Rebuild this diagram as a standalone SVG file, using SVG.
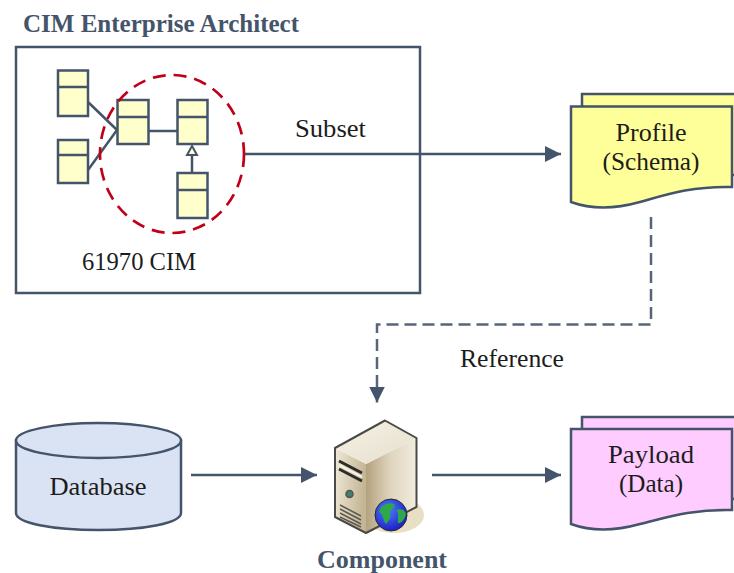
<svg xmlns="http://www.w3.org/2000/svg" width="734" height="573" viewBox="0 0 734 573">
<style>
text{font-family:"Liberation Serif","Times New Roman",serif;font-size:25px;fill:#1c1c1c}
.h{font-weight:bold;fill:#44546a}
.ln{fill:none;stroke:#44546a;stroke-width:2.5}
.cls{fill:#ffffcc;stroke:#44546a;stroke-width:2.5}
.doc{stroke:#44546a;stroke-width:2.5}
.y{fill:#ffff99}.p{fill:#ffccff}
</style>
<defs>
<marker id="a" markerUnits="userSpaceOnUse" markerWidth="17" markerHeight="17" refX="16" refY="8.5" orient="auto"><path d="M0 0.5L16 8.5L0 16.5L0 0.5Z" fill="#44546a"/></marker>
<linearGradient id="sf" x1="0" y1="0" x2="1" y2="0.2"><stop offset="0" stop-color="#efe9d8"/><stop offset="1" stop-color="#c4b595"/></linearGradient>
<linearGradient id="sr" x1="0" y1="0" x2="1" y2="0"><stop offset="0" stop-color="#b3a27f"/><stop offset="0.5" stop-color="#e0d6bf"/><stop offset="1" stop-color="#f1ecdf"/></linearGradient>
<linearGradient id="st" x1="0" y1="0" x2="1" y2="1"><stop offset="0" stop-color="#f5f1e6"/><stop offset="1" stop-color="#e6dfcc"/></linearGradient>
<radialGradient id="gl" cx="0.4" cy="0.35" r="0.7"><stop offset="0" stop-color="#4d7dff"/><stop offset="1" stop-color="#1a1ac0"/></radialGradient>
</defs>

<text class="h" x="23" y="32" textLength="276" lengthAdjust="spacingAndGlyphs">CIM Enterprise Architect</text>

<g id="enterprise">
<rect x="16" y="47" width="404" height="246" fill="#fff" stroke="#44546a" stroke-width="2.5"/>
<text x="82" y="270" textLength="114" lengthAdjust="spacingAndGlyphs">61970 CIM</text>
</g>

<g id="model">
<path class="ln" d="M88 102L117 130M88 170L117 130M148 131L177 131M192 155L192 173"/>
<path d="M192 146L197 155L187 155Z" fill="#ffffcc" stroke="#44546a" stroke-width="2"/>
<g id="class1"><rect class="cls" x="58" y="70.500" width="30" height="45.500"/><path class="ln" d="M58 87H88"/></g>
<g id="class2"><rect class="cls" x="58" y="140" width="30" height="43"/><path class="ln" d="M58 155H88"/></g>
<g id="class3"><rect class="cls" x="117.500" y="100" width="31" height="44"/><path class="ln" d="M117.500 117H148.500"/></g>
<g id="class4"><rect class="cls" x="177.500" y="100" width="30" height="44"/><path class="ln" d="M177.500 117H207.500"/></g>
<g id="class5"><rect class="cls" x="177.500" y="173" width="30" height="45"/><path class="ln" d="M177.500 190H207.500"/></g>
<ellipse id="subset" cx="172" cy="154" rx="72" ry="79" fill="none" stroke="#c00018" stroke-width="2.7" stroke-dasharray="13 8"/>
</g>

<g id="connectors">
<path class="ln" d="M245 154H561" marker-end="url(#a)"/>
<path class="ln" d="M651 217V324.500H377V402.500" stroke-width="3" stroke-dasharray="12 6" stroke-opacity="0.9" marker-end="url(#a)"/>
<path class="ln" d="M191 475H317" marker-end="url(#a)"/>
<path class="ln" d="M432 475H561" marker-end="url(#a)"/>
</g>
<text x="295" y="137" textLength="71" lengthAdjust="spacingAndGlyphs">Subset</text>
<text x="460" y="367" textLength="104" lengthAdjust="spacingAndGlyphs">Reference</text>

<g id="profile">
<path class="doc y" d="M582 106V94H736V175H730Z"/>
<path class="doc y" d="M571 106.500H732V187C690 186 665 195 640 202C615 209 590 209 571 202Z"/>
<text x="651" y="141" text-anchor="middle" textLength="71" lengthAdjust="spacingAndGlyphs">Profile</text>
<text x="651" y="170" text-anchor="middle" textLength="97" lengthAdjust="spacingAndGlyphs">(Schema)</text>
</g>

<g id="payload">
<path class="doc p" d="M582 429V417H736V499H730Z"/>
<path class="doc p" d="M571 429H732V510C690 509 665 518 640 524C615 531 590 531 571 524Z"/>
<text x="651" y="463" text-anchor="middle" textLength="86" lengthAdjust="spacingAndGlyphs">Payload</text>
<text x="651" y="492" text-anchor="middle" textLength="64" lengthAdjust="spacingAndGlyphs">(Data)</text>
</g>

<g id="database">
<path d="M16 440.500V513C16 523 52 530 98.500 530C145 530 181 523 181 513V440.500Z" fill="#dae3f3" stroke="#44546a" stroke-width="2.500"/>
<ellipse cx="98.500" cy="440.500" rx="82.500" ry="17.500" fill="#dae3f3" stroke="#44546a" stroke-width="2.500"/>
<text x="98" y="495" text-anchor="middle" textLength="97" lengthAdjust="spacingAndGlyphs">Database</text>
</g>

<g id="component">
<ellipse cx="394" cy="515" rx="30" ry="18" fill="#e8dfc4"/>
<path d="M335 448L366 464V533L335 517Z" fill="url(#sf)"/>
<path d="M366 464L416.500 438V507L366 533Z" fill="url(#sr)"/>
<path d="M335 448L385 420.500L416.500 438L366 464Z" fill="url(#st)"/>
<path d="M335 448L385 420.500L416.500 438V507L366 533L335 517Z" fill="none" stroke="#4a4a44" stroke-width="2" stroke-linejoin="round"/>
<path d="M339 461L362 473M339 469L362 481" fill="none" stroke="#2d2d28" stroke-width="3"/>
<path d="M339 465L362 477" fill="none" stroke="#f5f2e6" stroke-width="2"/>
<circle cx="349.500" cy="494" r="3.500" fill="#3f7f70" stroke="#55544a" stroke-width="1.500"/>
<path d="M340 505L361 516M340 509L361 520M340 513L361 524M340 517L361 527" fill="none" stroke="#5b5a50" stroke-width="1.500"/>
<circle cx="391" cy="515" r="16" fill="url(#gl)" stroke="#2a2a2a" stroke-width="1"/>
<path d="M381 507C386 503 392 502 395 505C394 509 390 509 390 513C392 518 388 521 386 524C382 519 384 514 379 512Z M396 510C401 508 405 510 406 514C405 519 401 524 398 523C397 518 400 515 396 510Z" fill="#2fa84a"/>
<text class="h" x="382" y="568" text-anchor="middle" textLength="130" lengthAdjust="spacingAndGlyphs">Component</text>
</g>
</svg>
